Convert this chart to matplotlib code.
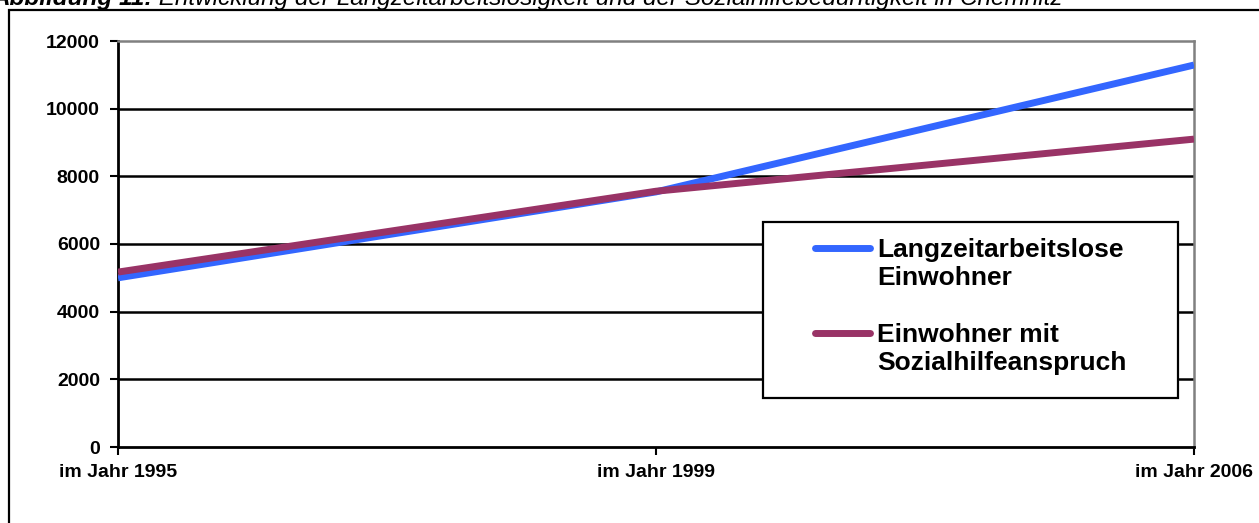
import matplotlib
matplotlib.use("Agg")
import matplotlib.pyplot as plt
from matplotlib.lines import Line2D
from matplotlib.patches import Rectangle

plt.rcParams['font.family'] = ['Liberation Sans', 'DejaVu Sans']

jahre = ["im Jahr 1995", "im Jahr 1999", "im Jahr 2006"]
langzeitarbeitslose = [5000, 7540, 11290]
sozialhilfe = [5170, 7560, 9100]
namen = ["Langzeitarbeitslose\nEinwohner", "Einwohner mit\nSozialhilfeanspruch"]
farben = ["#3366FF", "#993366"]
yticks = [0, 2000, 4000, 6000, 8000, 10000, 12000]

W, H = 1259, 523
fig = plt.figure(figsize=(W / 100, H / 100), dpi=100)

def fx(px):
    return px / W

def fy(py):
    return 1 - py / H

# outer frame of the figure box (runs off to the right and bottom)
fig.patches.append(Rectangle((fx(9), -0.2), 1.2, fy(10) + 0.2, transform=fig.transFigure,
                             fill=False, edgecolor="black", lw=1.6))

ax = fig.add_axes([fx(118), fy(447), fx(1194) - fx(118), fy(41) - fy(447)])
x = range(len(jahre))
ax.plot(x, langzeitarbeitslose, color=farben[0], lw=5, solid_capstyle="butt", zorder=3)
ax.plot(x, sozialhilfe, color=farben[1], lw=5, solid_capstyle="butt", zorder=4)

ax.set_xlim(0, len(jahre) - 1)
ax.set_ylim(0, 12000)
ax.set_yticks(yticks)
ax.set_yticklabels([str(v) for v in yticks], fontsize=14, fontweight="bold")
ax.set_xticks(list(x))
ax.set_xticklabels(jahre, fontsize=14, fontweight="bold")
ax.tick_params(axis="y", length=6, width=1.5, pad=7)
ax.tick_params(axis="x", length=6, width=1.5, pad=6)
for v in yticks[1:-1]:
    ax.axhline(v, color="black", lw=1.8, zorder=1)

for s in ["top", "right"]:
    ax.spines[s].set_color("#808080")
    ax.spines[s].set_linewidth(1.8)
for s in ["left", "bottom"]:
    ax.spines[s].set_color("black")
    ax.spines[s].set_linewidth(2)

# legend box with handles aligned to the first text line
fig.patches.append(Rectangle((fx(763), fy(398)), fx(1178) - fx(763), fy(222) - fy(398),
                             transform=fig.transFigure, facecolor="white",
                             edgecolor="black", lw=1.6, zorder=5))
for name, farbe, ly in zip(namen, farben, [248, 333]):
    fig.lines.append(Line2D([fx(815), fx(870)], [fy(ly), fy(ly)], transform=fig.transFigure,
                            color=farbe, lw=5, solid_capstyle="round", zorder=6))
    fig.text(fx(877), fy(ly - 10), name, fontsize=19, fontweight="bold", va="top",
             ha="left", linespacing=1.2, zorder=6)

# caption partly clipped at the top edge
t1 = fig.text(fx(-8), fy(5), "Abbildung 11:", fontsize=17.5, fontweight="bold",
              fontstyle="italic", va="baseline", ha="left")
fig.canvas.draw()
bb = t1.get_window_extent()
fig.text(bb.x1 / W, fy(5), " Entwicklung der Langzeitarbeitslosigkeit und der Sozialhilfebedürftigkeit in Chemnitz",
         fontsize=17.5, fontstyle="italic", va="baseline", ha="left")

fig.savefig("out.png", dpi=100)
